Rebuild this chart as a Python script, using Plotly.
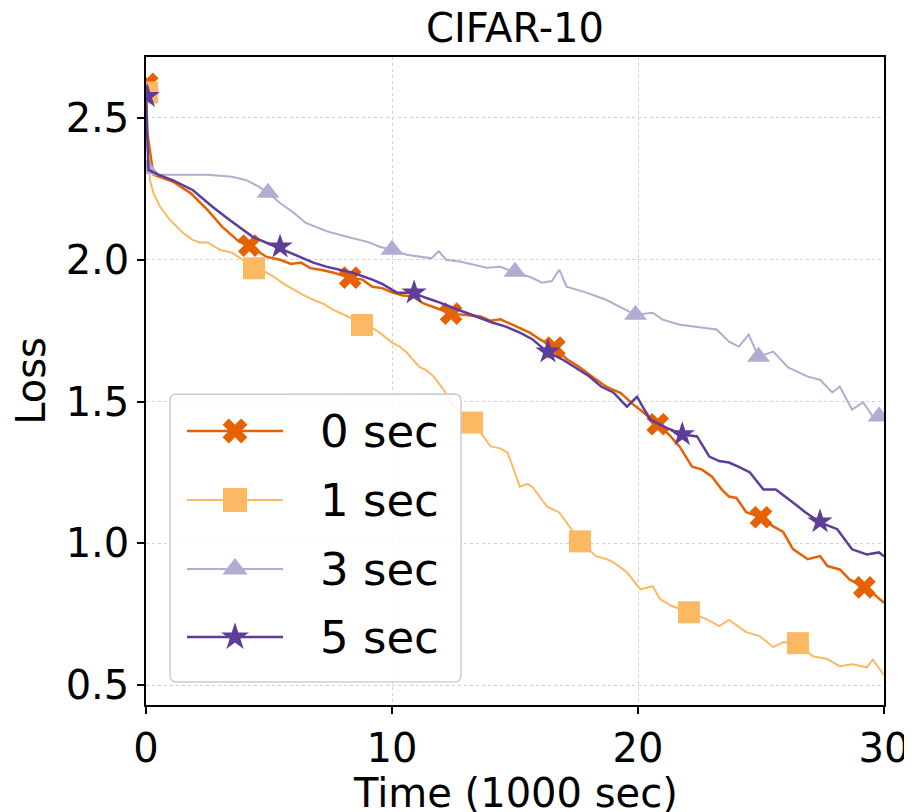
import numpy as np
import plotly.graph_objects as go

# CIFAR-10 loss vs time (1000 sec)
zero_x = [0, 0.05, 0.3, 1.1, 1.8, 2.5, 3.1, 3.8, 4.2, 4.9, 5.45, 5.9, 6.3, 6.7, 7.1, 7.6, 8.3, 8.8,
          9.2, 9.6, 10.0, 10.4, 10.85, 11.3, 11.8, 12.4, 13.0, 13.6, 14.0, 14.4, 14.8, 15.2, 15.6,
          16.0, 16.6, 17.1, 17.6, 18.1, 18.7, 19.3, 19.8, 20.1, 20.8, 21.3, 21.7, 22.2, 22.6, 23.0,
          23.4, 23.7, 24.0, 24.4, 25.0, 25.5, 25.9, 26.3, 26.9, 27.4, 27.7, 28.2, 28.6, 29.2, 29.6, 30.0]
zero_y = [2.62, 2.45, 2.30, 2.275, 2.236, 2.176, 2.116, 2.063, 2.05, 2.01, 2.0, 1.985, 1.99, 1.97,
          1.965, 1.955, 1.937, 1.93, 1.905, 1.90, 1.885, 1.875, 1.87, 1.845, 1.83, 1.81, 1.805, 1.80,
          1.785, 1.79, 1.775, 1.76, 1.743, 1.72, 1.69, 1.65, 1.623, 1.59, 1.553, 1.53, 1.49, 1.47,
          1.42, 1.38, 1.34, 1.27, 1.26, 1.236, 1.19, 1.165, 1.16, 1.11, 1.092, 1.06, 1.04, 0.98,
          0.944, 0.955, 0.92, 0.908, 0.873, 0.845, 0.82, 0.79]
zero_mx = [0.05, 4.2, 8.3, 12.4, 16.6, 20.8, 25.0, 29.2]
zero_my = [2.62, 2.05, 1.937, 1.81, 1.69, 1.42, 1.092, 0.845]

one_x = [0, 0.05, 0.16, 0.3, 0.57, 0.98, 1.26, 1.5, 1.9, 2.2, 2.5, 3.0, 3.5, 3.9, 4.35, 4.8, 5.2,
         5.6, 6.0, 6.4, 6.8, 7.2, 7.6, 8.2, 8.8, 9.2, 9.5, 10.0, 10.3, 10.6, 11.1, 11.4, 11.7, 12.1,
         12.5, 12.9, 13.3, 14.0, 14.4, 14.7, 15.2, 15.5, 15.7, 16.3, 16.8, 17.2, 17.65, 18.3, 18.7,
         19.0, 19.55, 20.1, 20.6, 20.9, 21.4, 22.1, 22.8, 23.3, 23.7, 24.4, 24.95, 25.5, 25.9, 26.5,
         27.1, 27.7, 28.2, 28.7, 29.3, 29.55, 30.0]
one_y = [2.59, 2.42, 2.28, 2.236, 2.187, 2.14, 2.116, 2.095, 2.07, 2.06, 2.062, 2.035, 2.025, 2.0,
         1.975, 1.96, 1.94, 1.915, 1.894, 1.875, 1.859, 1.845, 1.824, 1.80, 1.77, 1.76, 1.743, 1.708,
         1.695, 1.673, 1.623, 1.61, 1.588, 1.542, 1.482, 1.45, 1.43, 1.342, 1.335, 1.32, 1.2, 1.21,
         1.2, 1.13, 1.109, 1.06, 1.007, 0.954, 0.945, 0.933, 0.898, 0.838, 0.849, 0.803, 0.778,
         0.757, 0.732, 0.708, 0.73, 0.687, 0.673, 0.634, 0.651, 0.651, 0.602, 0.592, 0.567, 0.574,
         0.563, 0.59, 0.535]
one_mx = [0.05, 4.39, 8.78, 13.25, 17.64, 22.07, 26.5]
one_my = [2.59, 1.97, 1.77, 1.426, 1.007, 0.757, 0.648]

three_x = [0, 0.3, 1.1, 2.5, 3.5, 4.1, 4.6, 4.96, 5.45, 6.0, 6.5, 7.36, 8.2, 9.0, 9.5, 10.0, 10.6,
           11.3, 11.6, 11.9, 12.2, 12.8, 13.3, 13.85, 14.4, 14.9, 15.6, 16.1, 16.5, 16.8, 17.1, 17.9,
           18.7, 19.3, 19.9, 20.6, 21.0, 21.7, 22.4, 23.2, 23.7, 24.1, 24.5, 24.9, 25.5, 26.1, 26.9,
           27.4, 27.9, 28.2, 28.7, 29.15, 29.55, 30.0]
three_y = [2.32, 2.30, 2.30, 2.30, 2.293, 2.28, 2.257, 2.236, 2.2, 2.166, 2.13, 2.1, 2.08, 2.063,
           2.046, 2.035, 2.018, 2.01, 2.005, 2.03, 2.0, 1.993, 1.982, 1.972, 1.975, 1.958, 1.94,
           1.919, 1.925, 1.965, 1.905, 1.884, 1.859, 1.831, 1.806, 1.813, 1.789, 1.771, 1.764, 1.754,
           1.711, 1.694, 1.736, 1.658, 1.676, 1.62, 1.588, 1.577, 1.532, 1.553, 1.472, 1.497, 1.447,
           1.437]
three_mx = [0.05, 4.96, 10.0, 15.0, 19.9, 24.9, 29.8]
three_my = [2.32, 2.236, 2.035, 1.958, 1.806, 1.658, 1.447]

five_x = [0, 0.05, 0.1, 0.5, 1.1, 1.9, 2.7, 3.4, 3.8, 4.35, 4.9, 5.45, 6.26, 6.8, 7.36, 8.4, 9.2,
          9.6, 10.2, 10.85, 11.4, 11.95, 12.5, 13.0, 13.6, 14.1, 14.6, 15.2, 15.7, 16.3, 16.9, 17.4,
          18.0, 18.5, 19.0, 19.55, 19.96, 20.2, 20.5, 21.1, 21.8, 22.4, 22.9, 23.3, 23.7, 24.1,
          24.55, 25.1, 25.6, 26.3, 26.8, 27.4, 28.1, 28.7, 29.3, 29.8, 30.0]
five_y = [2.58, 2.447, 2.317, 2.30, 2.28, 2.246, 2.187, 2.14, 2.116, 2.08, 2.06, 2.04, 2.01, 1.99,
          1.975, 1.954, 1.93, 1.915, 1.884, 1.884, 1.865, 1.849, 1.83, 1.813, 1.795, 1.778, 1.765,
          1.743, 1.72, 1.676, 1.65, 1.623, 1.59, 1.553, 1.532, 1.482, 1.517, 1.48, 1.437, 1.41,
          1.384, 1.377, 1.306, 1.29, 1.285, 1.27, 1.25, 1.19, 1.19, 1.144, 1.11, 1.074, 1.05, 0.979,
          0.961, 0.968, 0.954]
five_mx = [0.05, 5.45, 10.9, 16.34, 21.8, 27.4]
five_my = [2.577, 2.046, 1.884, 1.676, 1.384, 1.077]

labels = ["0 sec", "1 sec", "3 sec", "5 sec"]
colors = ["#e66101", "#fdb863", "#b2abd2", "#5e3c99"]
symbols = ["x", "square", "triangle-up", "star"]
msizes = [20, 22, 20, 19]
lwidths = [2.5, 2, 2, 2.5]

series = [
    (zero_x, zero_y, zero_mx, zero_my),
    (one_x, one_y, one_mx, one_my),
    (three_x, three_y, three_mx, three_my),
    (five_x, five_y, five_mx, five_my),
]

FONT = "DejaVu Sans"
# the page puts the figure 8px in from the top-left corner
W, H = 904, 804
ML, MR, MT, MB = 138, 28, 49, 107
PW, PH = W - ML - MR, H - MT - MB

fig = go.Figure()
for i, (lx, ly, mx, my) in enumerate(series):
    fig.add_trace(go.Scatter(x=lx, y=ly, mode="lines", showlegend=False,
                             line=dict(color=colors[i], width=lwidths[i])))
    fig.add_trace(go.Scatter(x=mx, y=my, mode="markers", showlegend=False,
                             marker=dict(symbol=symbols[i], size=msizes[i], color=colors[i],
                                         line=dict(width=0))))

# legend drawn on an overlay axis (0..1 over the plot area) so the samples keep full marker size
def u(px):
    return px / PW


def v(px):
    return px / PH


box_l, box_r, box_b, box_t, rad = u(24), u(315), v(23), v(311), 6
bx, by = [], []
for cx, cy, a0 in [(box_r - u(rad), box_t - v(rad), 0), (box_l + u(rad), box_t - v(rad), 90),
                   (box_l + u(rad), box_b + v(rad), 180), (box_r - u(rad), box_b + v(rad), 270)]:
    for a in np.radians(np.linspace(a0, a0 + 90, 7)):
        bx.append(cx + u(rad) * np.cos(a))
        by.append(cy + v(rad) * np.sin(a))
bx.append(bx[0])
by.append(by[0])
fig.add_trace(go.Scatter(x=bx, y=by, xaxis="x2", yaxis="y2", mode="lines", fill="toself",
                         fillcolor="rgba(255,255,255,0.85)", line=dict(color="#cccccc", width=1.5),
                         showlegend=False, hoverinfo="skip"))

row_y = [v(274), v(205), v(136), v(68)]
for i in range(4):
    fig.add_trace(go.Scatter(x=[u(41), u(137)], y=[row_y[i], row_y[i]], xaxis="x2", yaxis="y2",
                             mode="lines", line=dict(color=colors[i], width=lwidths[i]),
                             showlegend=False, hoverinfo="skip"))
    fig.add_trace(go.Scatter(x=[u(89)], y=[row_y[i]], xaxis="x2", yaxis="y2", mode="markers",
                             marker=dict(symbol=symbols[i], size=msizes[i] + 2, color=colors[i],
                                         line=dict(width=0)),
                             showlegend=False, hoverinfo="skip"))
    fig.add_annotation(text=labels[i], x=u(172), y=row_y[i], xref="x2", yref="y2",
                       xanchor="left", yanchor="middle", showarrow=False,
                       font=dict(family=FONT, size=45, color="black"))

axis_common = dict(showline=True, mirror=True, linecolor="black", linewidth=1.5,
                   ticks="outside", ticklen=7, tickwidth=1.5, tickcolor="black",
                   showgrid=True, gridcolor="#d0d0d0", gridwidth=1, griddash="dot",
                   zeroline=False, automargin=False,
                   tickfont=dict(family=FONT, size=40, color="black"))

fig.update_xaxes(range=[0, 30], tickvals=[0, 10, 20, 30], selector=dict(anchor="y"),
                 **axis_common)
fig.update_layout(xaxis=dict(range=[0, 30], tickvals=[0, 10, 20, 30], **axis_common))
fig.update_layout(yaxis=dict(range=[0.43, 2.715], tickvals=[0.5, 1.0, 1.5, 2.0, 2.5],
                             tickformat=".1f",
                             title=dict(text="Loss", font=dict(family=FONT, size=40, color="black"),
                                        standoff=14),
                             **axis_common))
fig.update_layout(
    xaxis2=dict(overlaying="x", range=[0, 1], visible=False, fixedrange=True),
    yaxis2=dict(overlaying="y", range=[0, 1], visible=False, fixedrange=True),
)

# x axis title as an annotation so it can sit below the margin like the original
fig.add_annotation(text="Time (1000 sec)", x=0.5, y=0, xref="paper", yref="paper",
                   xanchor="center", yanchor="top", yshift=-63, showarrow=False,
                   font=dict(family=FONT, size=40, color="black"))

fig.update_layout(
    width=W, height=H,
    margin=dict(l=ML, r=MR, t=MT, b=MB),
    paper_bgcolor="white", plot_bgcolor="white",
    showlegend=False,
    title=dict(text="CIFAR-10", x=0.5, xref="paper", y=1 - 20 / H, yref="container",
               xanchor="center", yanchor="middle",
               font=dict(family=FONT, size=40, color="black")),
    font=dict(family=FONT),
)

fig.write_html("out.html")
